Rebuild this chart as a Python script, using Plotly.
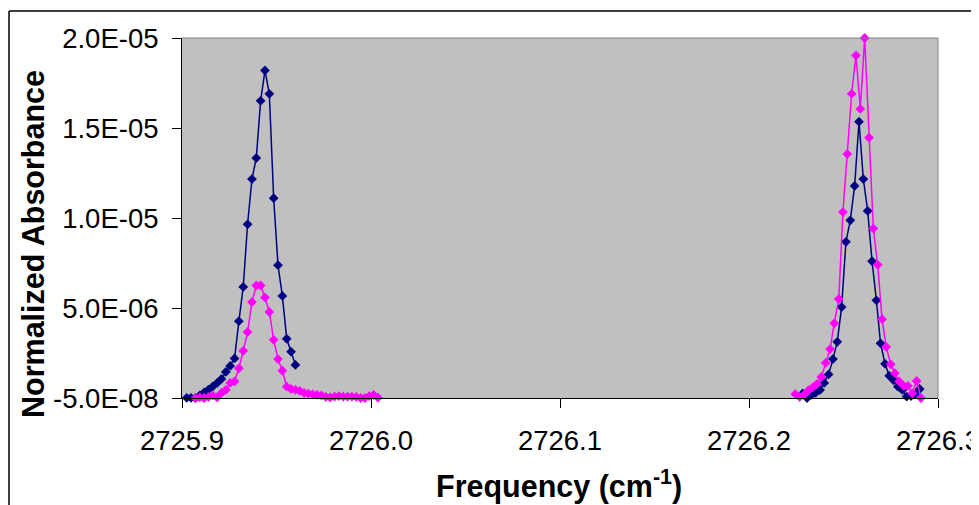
import plotly.graph_objects as go

# ---- data (x in cm^-1, y in units of 1e-6 normalized absorbance) ----
blue_left_x = [2725.9025, 2725.9048, 2725.9071, 2725.9094, 2725.9117, 2725.9140, 2725.9163,
               2725.9186, 2725.9209, 2725.9232, 2725.9255, 2725.9278, 2725.9301, 2725.9324,
               2725.9347, 2725.9370, 2725.9393, 2725.9416, 2725.9439, 2725.9462, 2725.9485,
               2725.9508, 2725.9531, 2725.9554, 2725.9577, 2725.9600]
blue_left_y = [-0.04, -0.04, -0.05, 0.09, 0.26, 0.42, 0.59, 0.79, 1.01, 1.40, 1.73, 2.15, 4.22,
               6.12, 9.60, 12.11, 13.28, 16.46, 18.15, 16.85, 11.05, 7.33, 5.62, 3.24, 2.52, 1.79]

blue_right_x = [2726.2284, 2726.2307, 2726.2330, 2726.2352, 2726.2376, 2726.2398, 2726.2421,
                2726.2444, 2726.2467, 2726.2490, 2726.2513, 2726.2536, 2726.2559, 2726.2582,
                2726.2605, 2726.2628, 2726.2651, 2726.2674, 2726.2696, 2726.2720, 2726.2742,
                2726.2765, 2726.2788, 2726.2811, 2726.2834, 2726.2857, 2726.2880, 2726.2903]
blue_right_y = [0.20, -0.05, 0.12, 0.23, 0.40, 0.79, 1.26, 2.11, 3.07, 5.00, 8.63, 9.82, 11.73,
                15.30, 12.11, 10.34, 7.55, 5.38, 2.99, 1.85, 1.18, 0.93, 0.58, 0.40, 0.03, 0.06,
                0.17, 0.45]

pink_left_x = [2725.9071, 2725.9094, 2725.9117, 2725.9140, 2725.9163, 2725.9186, 2725.9209,
               2725.9232, 2725.9255, 2725.9278, 2725.9301, 2725.9324, 2725.9347, 2725.9370,
               2725.9393, 2725.9416, 2725.9439, 2725.9462, 2725.9485, 2725.9508, 2725.9531,
               2725.9554, 2725.9577, 2725.9600, 2725.9623, 2725.9646, 2725.9669, 2725.9692,
               2725.9715, 2725.9738, 2725.9761, 2725.9784, 2725.9807, 2725.9830, 2725.9853,
               2725.9876, 2725.9899, 2725.9922, 2725.9945, 2725.9968, 2725.9991, 2726.0014,
               2726.0037]
pink_left_y = [-0.05, -0.02, -0.05, 0.01, 0.09, -0.02, 0.23, 0.40, 0.79, 0.87, 1.60, 2.57, 3.61,
               5.28, 6.20, 6.20, 5.54, 4.73, 3.18, 2.11, 1.47, 0.58, 0.45, 0.40, 0.34, 0.23, 0.19,
               0.15, 0.12, 0.09, 0.01, -0.02, 0.03, 0.06, 0.02, 0.02, 0.02, 0.01, -0.05, -0.05,
               0.06, 0.12, -0.03]

pink_right_x = [2726.2245, 2726.2268, 2726.2291, 2726.2314, 2726.2337, 2726.2360, 2726.2383,
                2726.2406, 2726.2429, 2726.2451, 2726.2475, 2726.2497, 2726.2520, 2726.2543,
                2726.2566, 2726.2589, 2726.2612, 2726.2635, 2726.2658, 2726.2681, 2726.2704,
                2726.2726, 2726.2750, 2726.2772, 2726.2795, 2726.2819, 2726.2841, 2726.2864,
                2726.2887, 2726.2910]
pink_right_y = [0.17, 0.01, 0.12, 0.37, 0.54, 0.73, 1.12, 1.90, 2.67, 4.10, 5.45, 10.28, 13.50,
                16.85, 18.98, 16.01, 19.95, 14.41, 9.36, 7.35, 4.33, 2.79, 1.82, 1.33, 0.87, 0.62,
                0.62, 0.21, 0.90, -0.05]

y_tick_vals = [-0.05, 4.95, 9.95, 14.95, 19.95]
y_tick_text = ["-5.0E-08", "5.0E-06", "1.0E-05", "1.5E-05", "2.0E-05"]
x_tick_vals = [2725.9, 2726.0, 2726.1, 2726.2, 2726.3]
x_tick_text = ["2725.9", "2726.0", "2726.1", "2726.2", "2726.3"]

SCALE = 1e-6
BLUE = "#000080"
PINK = "#FF00FF"
FONT = "Liberation Sans, Arial, sans-serif"

fig = go.Figure()
for xs, ys, col in [(blue_left_x, blue_left_y, BLUE), (blue_right_x, blue_right_y, BLUE),
                    (pink_left_x, pink_left_y, PINK), (pink_right_x, pink_right_y, PINK)]:
    fig.add_trace(go.Scatter(
        x=xs, y=[v * SCALE for v in ys], mode="lines+markers",
        line=dict(color=col, width=1.5),
        marker=dict(symbol="diamond", size=7.5, color=col, line=dict(width=0)),
        cliponaxis=False, showlegend=False, hoverinfo="skip"))

# the page body has an 8px margin, so the figure is 8px smaller and margins shifted
fig.update_layout(
    width=971, height=497,
    margin=dict(l=174, r=41, t=30, b=107, autoexpand=False),
    paper_bgcolor="white", plot_bgcolor="#C0C0C0",
    font=dict(family=FONT, size=27, color="black"),
    showlegend=False,
)
fig.update_xaxes(
    range=[2725.9, 2726.3], tickvals=x_tick_vals, ticktext=x_tick_text,
    showgrid=False, zeroline=False, showline=True, linecolor="black", linewidth=1,
    ticks="outside", ticklen=9, tickcolor="black", tickwidth=1,
    tickfont=dict(family=FONT, size=27.5, color="black"), ticklabelstandoff=9,
    ticklabeloverflow="allow",
)
fig.update_yaxes(
    range=[-0.05 * SCALE, 19.95 * SCALE], tickvals=[v * SCALE for v in y_tick_vals],
    ticktext=y_tick_text,
    showgrid=False, zeroline=False, showline=True, linecolor="black", linewidth=1,
    ticks="outside", ticklen=9, tickcolor="black", tickwidth=1,
    tickfont=dict(family=FONT, size=27.5, color="black"), ticklabelstandoff=8,
    ticklabeloverflow="allow",
)

# plot-area border (top / right, grey)
fig.add_shape(type="line", xref="paper", yref="paper", x0=0, x1=1, y0=1, y1=1,
              line=dict(color="#808080", width=1))
fig.add_shape(type="line", xref="paper", yref="paper", x0=1, x1=1, y0=0, y1=1,
              line=dict(color="#808080", width=1))
# outer chart border (top / left, black)
fig.add_shape(type="line", xref="paper", yref="paper", x0=-0.2288, x1=1.06, y0=1.075, y1=1.075,
              line=dict(color="black", width=1.5))
fig.add_shape(type="line", xref="paper", yref="paper", x0=-0.2288, x1=-0.2288, y0=-0.3, y1=1.075,
              line=dict(color="black", width=1.5))

fig.add_annotation(text="<b>Frequency (cm<sup>-1</sup>)</b>", xref="paper", yref="paper",
                   x=(559 - 182) / 756, y=(398 - 484) / 360, xanchor="center", yanchor="middle",
                   showarrow=False, font=dict(family=FONT, size=30.5, color="black"))
fig.add_annotation(text="<b>Normalized Absorbance</b>", xref="paper", yref="paper",
                   x=(33 - 182) / 756, y=(398 - 244) / 360, xanchor="center", yanchor="middle",
                   textangle=-90, showarrow=False, font=dict(family=FONT, size=30.5, color="black"))

fig.write_html("out.html")
